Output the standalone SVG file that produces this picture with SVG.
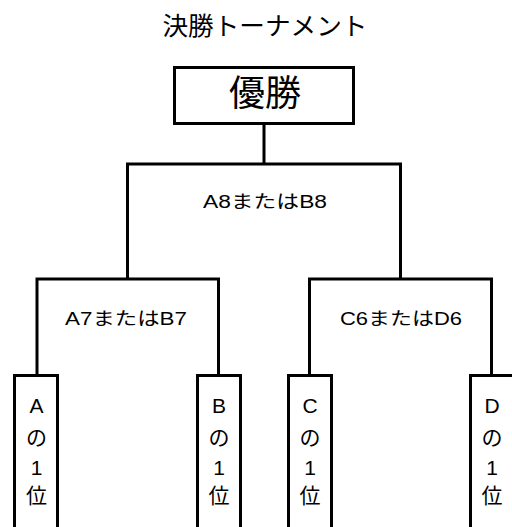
<svg xmlns="http://www.w3.org/2000/svg" width="512" height="527" viewBox="0 0 512 527">
<style>
text{font-family:"Liberation Sans","Noto Sans CJK JP",sans-serif;fill:#000;text-anchor:middle}
.box{fill:#fff;stroke:#000;stroke-width:3}
.ln{fill:none;stroke:#000;stroke-width:3}
.lbl{font-size:18px}
.leaf{font-size:21px}
</style>
<rect width="512" height="527" fill="#fff"/>
<text x="265" y="35" font-size="25" textLength="205" lengthAdjust="spacingAndGlyphs">決勝トーナメント</text>
<g id="connectors">
<path class="ln" d="M264,125V164"/>
<path class="ln" d="M127.5,279V164H400.5V279"/>
<path class="ln" d="M37,374V279H218.5V374"/>
<path class="ln" d="M309.5,374V279H491.5V374"/>
</g>
<g id="winner">
<rect class="box" x="174.5" y="67.5" width="179" height="56"/>
<text x="265" y="106" font-size="36">優勝</text>
</g>
<g id="final"><text class="lbl" x="265" y="208" textLength="124" lengthAdjust="spacingAndGlyphs">A8またはB8</text></g>
<g id="semi1"><text class="lbl" x="126" y="325" textLength="122" lengthAdjust="spacingAndGlyphs">A7またはB7</text></g>
<g id="semi2"><text class="lbl" x="401" y="325" textLength="122" lengthAdjust="spacingAndGlyphs">C6またはD6</text></g>
<g id="leafA">
<rect class="box" x="14.5" y="375.5" width="43" height="160"/>
<text class="leaf" x="36.5" y="413">A</text><text class="leaf" x="36.5" y="445">の</text><text class="leaf" x="36.5" y="475">1</text><text class="leaf" x="36.5" y="503">位</text>
</g>
<g id="leafB">
<rect class="box" x="197.5" y="375.5" width="43" height="160"/>
<text class="leaf" x="219" y="413">B</text><text class="leaf" x="219" y="445">の</text><text class="leaf" x="219" y="475">1</text><text class="leaf" x="219" y="503">位</text>
</g>
<g id="leafC">
<rect class="box" x="288.5" y="375.5" width="43" height="160"/>
<text class="leaf" x="310" y="413">C</text><text class="leaf" x="310" y="445">の</text><text class="leaf" x="310" y="475">1</text><text class="leaf" x="310" y="503">位</text>
</g>
<g id="leafD">
<rect class="box" x="470.5" y="375.5" width="43" height="160"/>
<text class="leaf" x="492" y="413">D</text><text class="leaf" x="492" y="445">の</text><text class="leaf" x="492" y="475">1</text><text class="leaf" x="492" y="503">位</text>
</g>
</svg>
